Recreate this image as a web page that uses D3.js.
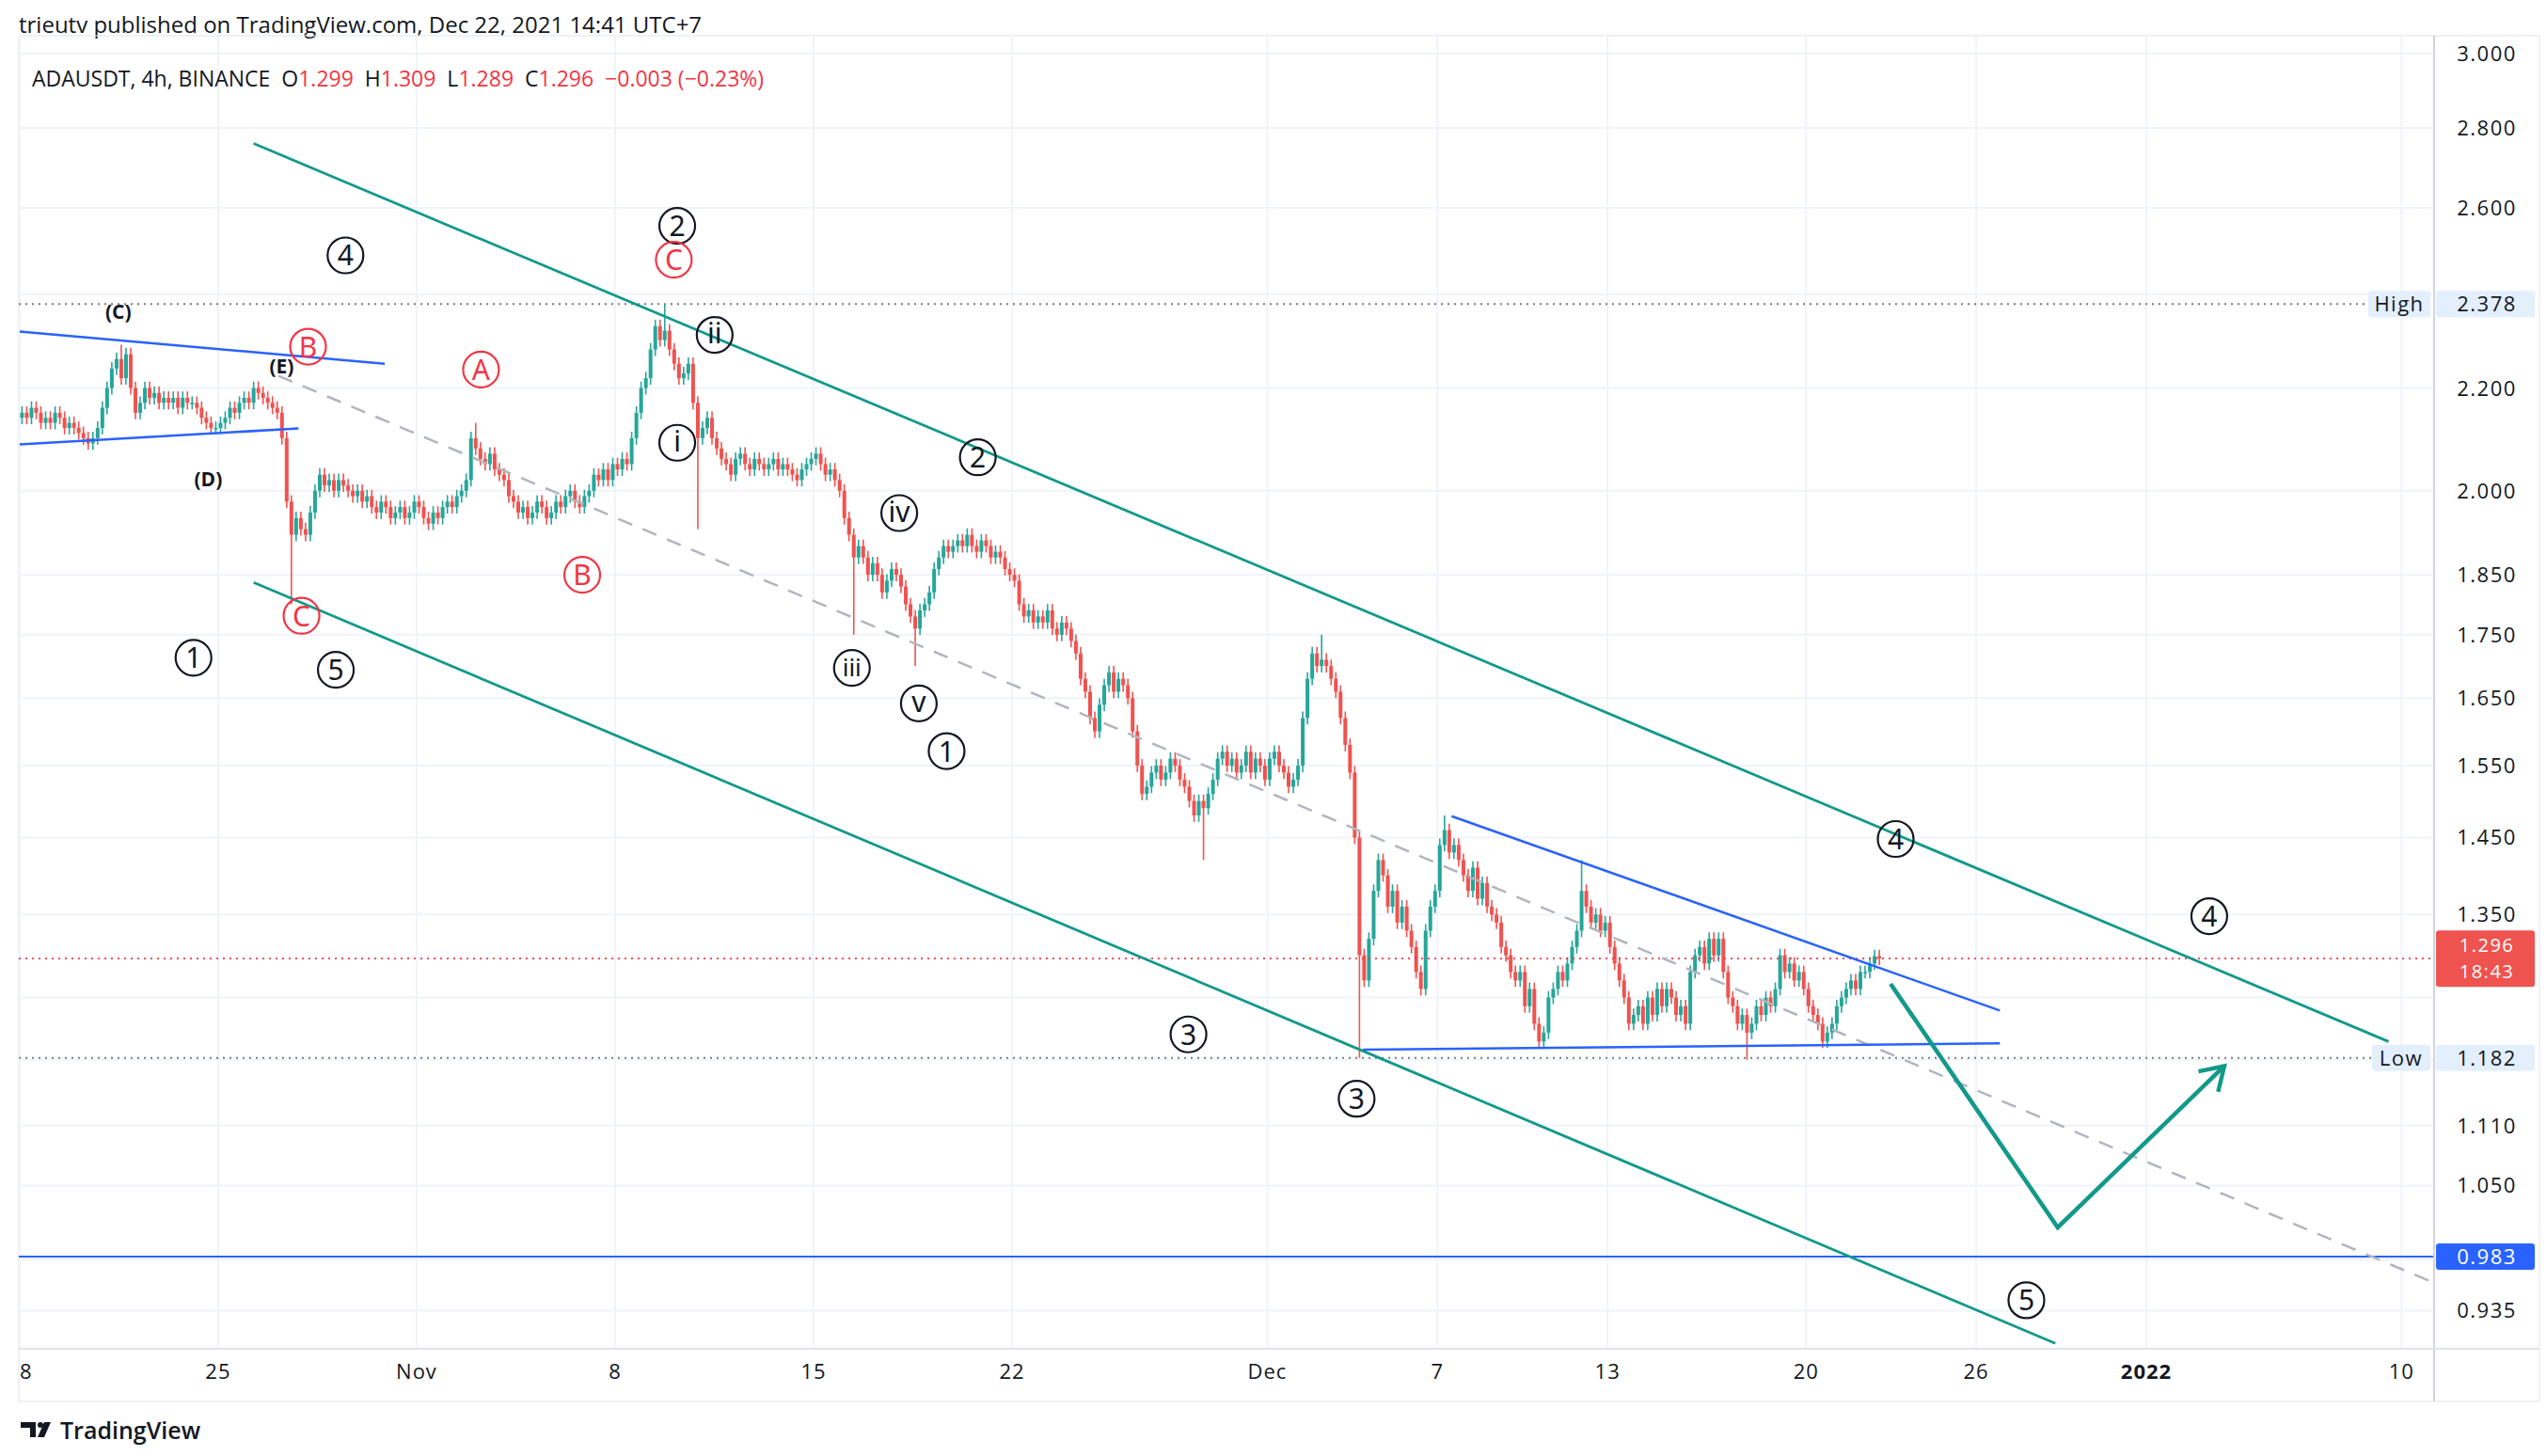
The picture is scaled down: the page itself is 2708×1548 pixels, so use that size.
<!DOCTYPE html>
<html><head><meta charset="utf-8">
<script src="https://cdn.jsdelivr.net/npm/d3@7"></script>
<style>body{margin:0;background:#fff;font-family:"Open Sans",Roboto,sans-serif}</style>
</head><body><svg id="c" width="2708" height="1548"></svg>
<script>
// 4h closes, Oct 18 2021 00:00 onward (6 per day)
const closes = [
2.15,2.14,2.16,2.15,2.13,2.14, 2.13,2.15,2.14,2.12,2.13,2.12, 2.11,2.10,2.09,2.10,2.12,2.16,
2.20,2.24,2.26,2.22,2.27,2.20, 2.15,2.17,2.20,2.18,2.19,2.17, 2.18,2.17,2.18,2.16,2.18,2.17,
2.17,2.16,2.14,2.13,2.12,2.12, 2.13,2.14,2.16,2.15,2.17,2.18, 2.17,2.20,2.19,2.18,2.17,2.16,
2.15,2.10,1.98,1.92,1.95,1.93, 1.92,1.96,2.00,2.03,2.01,2.02, 2.00,2.02,2.01,2.00,1.99,2.00,
1.98,1.99,1.97,1.96,1.98,1.97, 1.95,1.96,1.97,1.95,1.96,1.98, 1.97,1.95,1.94,1.96,1.95,1.97,
1.98,1.97,1.99,2.00,2.02,2.10, 2.08,2.06,2.05,2.07,2.04,2.03, 2.02,1.99,1.98,1.96,1.97,1.95,
1.96,1.98,1.97,1.95,1.96,1.98, 1.97,1.99,2.00,1.98,1.97,1.99, 2.00,2.03,2.02,2.04,2.02,2.05,
2.04,2.06,2.05,2.10,2.15,2.20, 2.22,2.28,2.33,2.30,2.32,2.28, 2.25,2.22,2.23,2.25,2.17,2.10,
2.12,2.14,2.10,2.08,2.06,2.05, 2.03,2.06,2.07,2.05,2.04,2.06, 2.05,2.04,2.05,2.06,2.04,2.05,
2.04,2.03,2.02,2.04,2.05,2.06, 2.07,2.05,2.03,2.04,2.02,2.00, 1.95,1.92,1.88,1.90,1.88,1.85,
1.87,1.85,1.82,1.84,1.86,1.85, 1.83,1.80,1.78,1.76,1.79,1.80, 1.82,1.86,1.88,1.90,1.89,1.90,
1.91,1.90,1.92,1.90,1.89,1.91, 1.90,1.88,1.89,1.88,1.86,1.85, 1.84,1.80,1.78,1.79,1.77,1.78,
1.77,1.79,1.76,1.75,1.77,1.76, 1.74,1.72,1.68,1.66,1.62,1.60, 1.64,1.67,1.69,1.66,1.68,1.67,
1.65,1.60,1.55,1.51,1.52,1.54, 1.55,1.53,1.54,1.56,1.55,1.53, 1.52,1.50,1.48,1.50,1.49,1.51,
1.53,1.56,1.57,1.55,1.56,1.54, 1.55,1.57,1.54,1.56,1.55,1.53, 1.56,1.57,1.55,1.54,1.52,1.53,
1.55,1.62,1.68,1.72,1.70,1.71, 1.70,1.68,1.66,1.62,1.58,1.54, 1.45,1.30,1.27,1.32,1.38,1.42,
1.40,1.36,1.38,1.34,1.36,1.33, 1.31,1.28,1.26,1.33,1.36,1.38, 1.44,1.46,1.43,1.44,1.42,1.40,
1.38,1.41,1.37,1.39,1.36,1.35, 1.34,1.31,1.30,1.28,1.27,1.28, 1.24,1.26,1.22,1.20,1.21,1.25,
1.26,1.28,1.27,1.29,1.31,1.33, 1.38,1.36,1.34,1.35,1.33,1.34, 1.31,1.29,1.27,1.25,1.22,1.23,
1.24,1.22,1.25,1.23,1.26,1.24, 1.26,1.25,1.23,1.24,1.22,1.28, 1.30,1.31,1.29,1.32,1.30,1.32,
1.28,1.25,1.24,1.22,1.23,1.21, 1.22,1.24,1.23,1.25,1.24,1.26, 1.30,1.28,1.29,1.27,1.28,1.26,
1.24,1.23,1.22,1.20,1.21,1.22, 1.24,1.25,1.26,1.27,1.26,1.28, 1.28,1.29,1.299,1.296];
const firstOpen = 2.14;
// notable wicks: [candle index, high, low]
const spikes = [[21,2.29,null],[57,null,1.80],[96,2.13,null],[136,2.378,null],[143,null,1.93],
 [176,null,1.75],[189,null,1.70],[250,null,1.42],[275,1.75,null],[283,null,1.182],[365,null,1.18],[301,1.48,null],[330,1.42,null]];
const priceTicks = [3.0,2.8,2.6,2.4,2.2,2.0,1.85,1.75,1.65,1.55,1.45,1.35,1.25,1.18,1.11,1.05,0.98,0.935];
const hiddenTicks = [2.4,1.25,1.18,0.98];
const dateTicks = [["2021-10-18","18"],["2021-10-25","25"],["2021-11-01","Nov"],["2021-11-08","8"],["2021-11-15","15"],["2021-11-22","22"],["2021-12-01","Dec"],["2021-12-07","7"],["2021-12-13","13"],["2021-12-20","20"],["2021-12-26","26"],["2022-01-01","2022"],["2022-01-10","10"]];
const greenLines = [["2021-10-26T06:00",2.76,"2022-01-09T13:00",1.20],["2021-10-26T06:00",1.837,"2021-12-28T19:00",0.907]];
const dashedLine = ["2021-10-27T03:00",2.225,"2022-01-11T00:00",0.961];
const blueLines = [["2021-10-18T00:00",2.318,"2021-10-30T21:00",2.25],["2021-10-18T00:00",2.088,"2021-10-27T20:00",2.119],
 ["2021-12-07T12:00",1.479,"2021-12-26T20:00",1.235],["2021-12-04T09:00",1.191,"2021-12-26T20:00",1.198]];
const arrowPts = [["2021-12-22T23:30",1.266],["2021-12-28T21:00",1.01],["2022-01-03T18:00",1.173]];
const labels = [[11.49,2.488,"4","c"],[23.19,2.557,"2","c"],[6.13,1.713,"1","c"],[11.15,1.694,"5","c"],[33.79,2.063,"2","c"],
[32.69,1.571,"1","c"],[41.22,1.208,"3","c"],[47.15,1.138,"3","c"],[66.16,1.448,"4","c"],[77.22,1.348,"4","c"],[70.77,0.944,"5","c"],
[24.51,2.311,"ii","c"],[23.19,2.091,"i","c"],[31.02,1.959,"iv","c"],[29.35,1.697,"iii","c"],[31.71,1.642,"v","c"],
[23.07,2.478,"C","r"],[10.17,2.286,"B","r"],[16.27,2.238,"A","r"],[19.84,1.85,"B","r"],[9.94,1.781,"C","r"],
[3.48,2.363,"(C)","p"],[9.24,2.245,"(E)","p"],[6.65,2.023,"(D)","p"]];

const svg = d3.select("#c");
const L=20,R=2588,T=38,B=1434;
const t0 = new Date("2021-10-18T00:00:00Z");
const D = s=>new Date(s+(s.length>10?":00Z":"T00:00:00Z"));
const x = d3.scaleUtc().domain([new Date(t0.getTime()-0.03*864e5), new Date(t0.getTime()+85.15*864e5)]).range([L,R]);
const y = d3.scaleLog().domain([0.9025,3.05]).range([B,T]);
const up="#26a69a", dn="#ef5350", grn="#12998a", blue="#2962ff", red="#f23645";

svg.append("text").attr("x",20).attr("y",35).attr("font-size",24).attr("fill","#131722").text("trieutv published on TradingView.com, Dec 22, 2021 14:41 UTC+7");
svg.append("rect").attr("x",L).attr("y",T).attr("width",2700-L).attr("height",1490-T).attr("fill","none").attr("stroke","#e0e3eb");
svg.append("clipPath").attr("id","pc").append("rect").attr("x",L).attr("y",T).attr("width",R-L).attr("height",B-T);
const g = svg.append("g").attr("clip-path","url(#pc)");
g.selectAll(".hg").data(priceTicks).join("line").attr("x1",L).attr("x2",R).attr("y1",d=>y(d)).attr("y2",d=>y(d)).attr("stroke","#f0f3fa").attr("stroke-width",2);
g.selectAll(".vg").data(dateTicks).join("line").attr("y1",T).attr("y2",B).attr("x1",d=>x(D(d[0]))).attr("x2",d=>x(D(d[0]))).attr("stroke","#f0f3fa").attr("stroke-width",2);
svg.append("line").attr("x1",R).attr("x2",R).attr("y1",T).attr("y2",1490).attr("stroke","#d1d4dc").attr("stroke-width",2);
svg.append("line").attr("x1",L).attr("x2",2700).attr("y1",B).attr("y2",B).attr("stroke","#e0e3eb").attr("stroke-width",2);

const candles = closes.map((c,i)=>{
  const o = i===0?firstOpen:closes[i-1];
  let h=Math.max(o,c)*1.006, l=Math.min(o,c)*0.994;
  spikes.forEach(s=>{ if(s[0]===i){ if(s[1]) h=s[1]; if(s[2]) l=s[2]; }});
  return {t:new Date(t0.getTime()+i*4*3600e3+2*3600e3),o,c,h,l};
});
const cg = g.append("g");
cg.selectAll("line").data(candles).join("line").attr("x1",d=>x(d.t)).attr("x2",d=>x(d.t)).attr("y1",d=>y(d.h)).attr("y2",d=>y(d.l))
  .attr("stroke",d=>d.c>=d.o?up:dn).attr("stroke-width",1.6);
cg.selectAll("rect").data(candles).join("rect").attr("x",d=>x(d.t)-2).attr("width",4)
  .attr("y",d=>y(Math.max(d.o,d.c))).attr("height",d=>Math.max(1.5,y(Math.min(d.o,d.c))-y(Math.max(d.o,d.c))))
  .attr("fill",d=>d.c>=d.o?up:dn);

const hl=(p,col,dash,w)=>g.append("line").attr("x1",L).attr("x2",R).attr("y1",y(p)).attr("y2",y(p)).attr("stroke",col).attr("stroke-dasharray",dash).attr("stroke-width",w);
hl(2.378,"#787b86","2 5",2); hl(1.182,"#787b86","2 5",2); hl(1.296,red,"2 5",1.6); hl(0.983,blue,null,2);
const seg=(a,col,w,dash)=>g.append("line").attr("x1",x(D(a[0]))).attr("y1",y(a[1])).attr("x2",x(D(a[2]))).attr("y2",y(a[3])).attr("stroke",col).attr("stroke-width",w).attr("stroke-dasharray",dash);
seg(dashedLine,"#b2b5be",2.5,"16 12");
greenLines.forEach(a=>seg(a,grn,2.8,null));
blueLines.forEach(a=>seg(a,blue,2.5,null));
g.append("path").attr("d",d3.line().x(d=>x(D(d[0]))).y(d=>y(d[1]))(arrowPts)).attr("fill","none").attr("stroke",grn).attr("stroke-width",4.5);
{ const p=arrowPts[2], q=arrowPts[1]; const ex=x(D(p[0])), ey=y(p[1]); const ang=Math.atan2(ey-y(q[1]),ex-x(D(q[0])));
  const a1=ang+Math.PI*0.82, a2=ang-Math.PI*0.82;
  g.append("path").attr("d",`M${ex+28*Math.cos(a1)},${ey+28*Math.sin(a1)}L${ex},${ey}L${ex+28*Math.cos(a2)},${ey+28*Math.sin(a2)}`).attr("fill","none").attr("stroke",grn).attr("stroke-width",4.5); }

labels.forEach(l=>{
  const cx=x(new Date(t0.getTime()+l[0]*864e5)), cy=y(l[1]);
  const col = l[3]==="r"?red:"#131722";
  if(l[3]!=="p"){
    g.append("circle").attr("cx",cx).attr("cy",cy).attr("r",19).attr("fill","none").attr("stroke",col).attr("stroke-width",2.2);
    g.append("text").attr("x",cx).attr("y",cy+ (l[2].match(/^[iv]+$/)?9:11)).attr("text-anchor","middle").attr("font-size",l[2].length>2?26:30).attr("fill",col)
     .attr("font-family","'Noto Sans',sans-serif").text(l[2]);
  } else {
    g.append("text").attr("x",cx).attr("y",cy+8).attr("text-anchor","middle").attr("font-size",21).attr("font-weight","bold").attr("fill","#131722").text(l[2]);
  }
});

const lg = svg.append("text").attr("x",34).attr("y",92).attr("font-size",23);
[["ADAUSDT, 4h, BINANCE  O","#131722"],["1.299","#f23645"],["  H","#131722"],["1.309","#f23645"],["  L","#131722"],["1.289","#f23645"],["  C","#131722"],["1.296","#f23645"],["  −0.003 (−0.23%)","#f23645"]]
 .forEach(s=>lg.append("tspan").attr("fill",s[1]).attr("xml:space","preserve").text(s[0]));

svg.selectAll(".pt").data(priceTicks.filter(d=>!hiddenTicks.includes(d))).join("text").attr("x",2644).attr("y",d=>y(d)+8).attr("text-anchor","middle").attr("font-size",22)
  .attr("fill","#131722").attr("letter-spacing",1.5).text(d=>d.toFixed(3));
const tag=(p,txt,bg,fg,h,txt2)=>{ svg.append("rect").attr("x",2590).attr("y",y(p)-h/2).attr("width",105).attr("height",h).attr("rx",3).attr("fill",bg);
  svg.append("text").attr("x",2644).attr("y",txt2?y(p)-7:y(p)+8).attr("text-anchor","middle").attr("font-size",txt2?20:22).attr("letter-spacing",1.5).attr("fill",fg).text(txt);
  if(txt2) svg.append("text").attr("x",2644).attr("y",y(p)+21).attr("text-anchor","middle").attr("font-size",20).attr("letter-spacing",1.5).attr("fill",fg).text(txt2); };
tag(2.378,"2.378","#e3effd","#131722",28); tag(1.182,"1.182","#e3effd","#131722",28); tag(1.296,"1.296","#ef5350","#fff",60,"18:43"); tag(0.983,"0.983","#2962ff","#fff",28);
const side=(p,txt,x0,w)=>{ svg.append("rect").attr("x",x0).attr("y",y(p)-14).attr("width",w).attr("height",28).attr("rx",3).attr("fill","#e3effd");
  svg.append("text").attr("x",x0+w/2).attr("y",y(p)+8).attr("text-anchor","middle").attr("font-size",22).attr("letter-spacing",1.5).attr("fill","#131722").text(txt); };
side(2.378,"High",2518,66); side(1.182,"Low",2522,62);

svg.append("clipPath").attr("id","pc2").append("rect").attr("x",L).attr("y",1436).attr("width",R-L).attr("height",50);
svg.selectAll(".dt").data(dateTicks).join("text").attr("x",d=>x(D(d[0]))).attr("y",1466).attr("text-anchor","middle").attr("font-size",22)
 .attr("letter-spacing",1).attr("font-weight",d=>d[1]==="2022"?"bold":null).attr("fill","#131722").attr("clip-path","url(#pc2)").text(d=>d[1]);

svg.append("path").attr("d","M22,1512h16v16h-6v-10h-10z M40,1528l7-16h7l-7,16z").attr("fill","#131722");
svg.append("circle").attr("cx",43).attr("cy",1515).attr("r",3).attr("fill","#131722");
svg.append("text").attr("x",64).attr("y",1530).attr("font-size",25).attr("font-weight","600").attr("fill","#131722").text("TradingView");
</script></body></html>
